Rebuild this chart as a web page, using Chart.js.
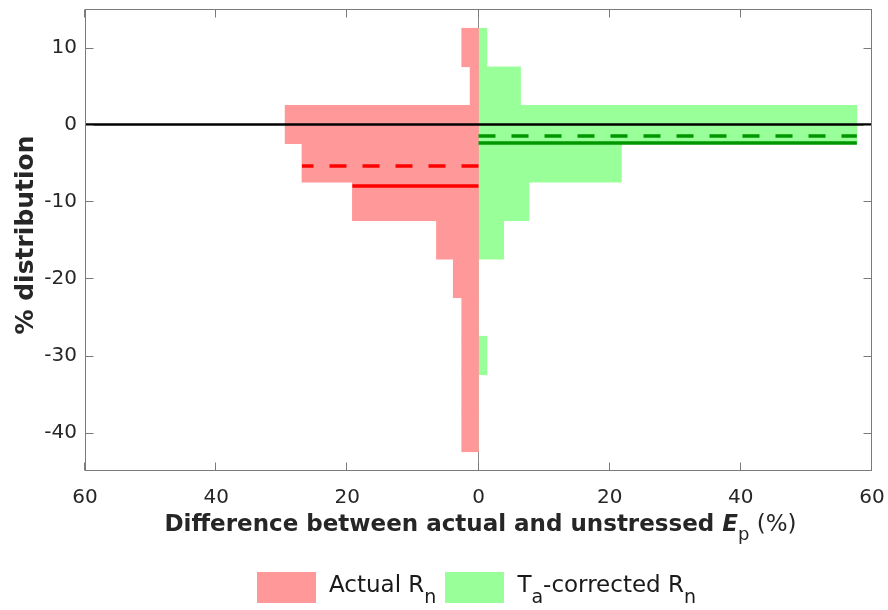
<!DOCTYPE html>
<html>
<head>
<meta charset="utf-8">
<script src="https://cdn.jsdelivr.net/npm/chart.js@4.4.1/dist/chart.umd.min.js"></script>
<style>
  html, body { margin: 0; padding: 0; background: #fff; }
  #wrap { width: 888px; height: 610px; position: relative; }
</style>
</head>
<body>
<div id="wrap"><canvas id="myChart"></canvas></div>
<script>
// ------------------------- data -------------------------
// centre of each 5 % class
const binCentres = [10, 5, 0, -5, -10, -15, -20, -25, -30, -35, -40];
const actualRn = [2.56, 1.28, 29.49, 26.92, 19.23, 6.41, 3.85, 2.56, 2.56, 2.56, 2.56];
const taCorrectedRn = [1.28, 6.41, 57.69, 21.79, 7.69, 3.85, 0, 0, 1.28, 0, 0];

// solid / dashed reference levels of each series
const actualSolid = -8.0;
const actualDashed = -5.4;
const taSolid = -2.4;
const taDashed = -1.5;

const yTicks = [10, 0, -10, -20, -30, -40];
const xTicks = [-60, -40, -20, 0, 20, 40, 60];

const pink = '#ff9999';
const green = '#99ff99';
const axisGrey = '#7a7a7a';
const textCol = '#262626';
const FONT = 'DejaVu Sans';

// length of the bar in the class that holds level y
function barAt(values, y) {
  const i = binCentres.findIndex(c => Math.abs(y - c) <= 2.5);
  return i < 0 ? 0 : values[i];
}

function levelLine(y, values, side, colour, dashed) {
  return {
    type: 'line',
    data: [{x: 0, y: y}, {x: side * barAt(values, y), y: y}],
    borderColor: colour,
    borderWidth: 3.5,
    borderDash: dashed ? [17, 16] : [],
    borderCapStyle: 'butt',
    pointRadius: 0,
    order: 0
  };
}

// draw a row of text pieces with different fonts / offsets
function runs(ctx, parts, x, y, draw) {
  let w = 0;
  parts.forEach(p => {
    ctx.font = p.font;
    if (draw) ctx.fillText(p.t, x + w, y + (p.dy || 0));
    w += ctx.measureText(p.t).width;
  });
  return w;
}

const decor = {
  id: 'decor',
  beforeDatasetsDraw(chart) {
    const {ctx, chartArea: a, scales: {x}} = chart;
    const x0 = Math.round(x.getPixelForValue(0)) - 0.5;
    ctx.save();
    ctx.strokeStyle = '#8c8c8c';
    ctx.lineWidth = 1;
    ctx.beginPath();
    ctx.moveTo(x0, a.top);
    ctx.lineTo(x0, a.bottom);
    ctx.stroke();
    ctx.restore();
  },
  afterDraw(chart) {
    const {ctx, chartArea: a, scales: {x, y}} = chart;
    ctx.save();
    // box and inward ticks
    ctx.strokeStyle = axisGrey;
    ctx.lineWidth = 1;
    const L = Math.round(a.left) + 0.5, R = Math.round(a.right) - 0.5;
    const T = Math.round(a.top) + 0.5, B = Math.round(a.bottom) - 0.5;
    ctx.strokeRect(L, T, R - L, B - T);
    ctx.beginPath();
    const tl = 8;
    yTicks.forEach(v => {
      const py = Math.round(y.getPixelForValue(v)) + 0.5;
      ctx.moveTo(L, py); ctx.lineTo(L + tl, py);
      ctx.moveTo(R, py); ctx.lineTo(R - tl, py);
    });
    xTicks.forEach(v => {
      const px = Math.round(x.getPixelForValue(v)) - 0.5;
      ctx.moveTo(px, B); ctx.lineTo(px, B - tl);
      ctx.moveTo(px, T); ctx.lineTo(px, T + tl);
    });
    ctx.stroke();

    // tick labels
    ctx.fillStyle = textCol;
    ctx.font = '20px ' + FONT;
    ctx.textAlign = 'right';
    ctx.textBaseline = 'middle';
    yTicks.forEach(v => ctx.fillText(String(v), a.left - 8, y.getPixelForValue(v)));
    ctx.textAlign = 'center';
    ctx.textBaseline = 'alphabetic';
    xTicks.forEach(v => ctx.fillText(String(Math.abs(v)), x.getPixelForValue(v), 503));

    // x axis title
    ctx.textAlign = 'left';
    const xt = [
      {t: 'Difference between actual and unstressed ', font: 'bold 23px ' + FONT},
      {t: 'E', font: 'italic bold 23px ' + FONT},
      {t: 'p', font: '18px ' + FONT, dy: 9},
      {t: ' (%)', font: '23px ' + FONT}
    ];
    const cx = (a.left + a.right) / 2;
    const wx = runs(ctx, xt, 0, 0, false);
    runs(ctx, xt, cx + 2 - wx / 2, 531, true);

    // y axis title
    ctx.save();
    ctx.translate(33, 235);
    ctx.rotate(-Math.PI / 2);
    ctx.textAlign = 'center';
    ctx.font = 'bold 25px ' + FONT;
    ctx.fillText('% distribution', 0, 0);
    ctx.restore();

    // legend below the plot
    const lf = '23px ' + FONT, sf = '19px ' + FONT;
    const t1 = [{t: 'Actual R', font: lf}, {t: 'n', font: sf, dy: 11}];
    const t2 = [{t: 'T', font: lf}, {t: 'a', font: sf, dy: 11}, {t: '-corrected R', font: lf}, {t: 'n', font: sf, dy: 11}];
    const bw = 59, bh = 31, gap = 13, mid = 9;
    const w1 = runs(ctx, t1, 0, 0, false), w2 = runs(ctx, t2, 0, 0, false);
    const total = bw + gap + w1 + mid + bw + gap + w2;
    let lx = Math.round(cx - 2 - total / 2);
    const ly = 572;
    ctx.fillStyle = pink;
    ctx.fillRect(lx, ly, bw, bh);
    lx += bw + gap;
    ctx.fillStyle = '#1a1a1a';
    runs(ctx, t1, lx, ly + 20, true);
    lx += w1 + mid;
    ctx.fillStyle = green;
    ctx.fillRect(Math.round(lx), ly, bw, bh);
    lx += bw + gap;
    ctx.fillStyle = '#1a1a1a';
    runs(ctx, t2, lx, ly + 20, true);
    ctx.restore();
  }
};

new Chart('myChart', {
  type: 'bar',
  data: {
    datasets: [
      {
        type: 'line',
        data: [{x: xTicks[0], y: 0}, {x: xTicks[xTicks.length - 1], y: 0}],
        borderColor: '#000',
        borderWidth: 2.5,
        pointRadius: 0,
        order: 0
      },
      levelLine(actualSolid, actualRn, -1, '#ff0000', false),
      levelLine(actualDashed, actualRn, -1, '#ff0000', true),
      levelLine(taSolid, taCorrectedRn, 1, '#009600', false),
      levelLine(taDashed, taCorrectedRn, 1, '#009600', true),
      {
        label: 'Actual Rn',
        data: binCentres.map((c, i) => ({x: -actualRn[i], y: c})),
        backgroundColor: pink,
        order: 1
      },
      {
        label: 'Ta-corrected Rn',
        data: binCentres.map((c, i) => ({x: taCorrectedRn[i], y: c})),
        backgroundColor: green,
        order: 1
      }
    ]
  },
  options: {
    indexAxis: 'y',
    responsive: true,
    maintainAspectRatio: false,
    animation: false,
    grouped: false,
    barPercentage: 1,
    categoryPercentage: 1,
    layout: {padding: {left: 85, right: 16, top: 9, bottom: 139}},
    plugins: {legend: {display: false}, tooltip: {enabled: false}},
    scales: {
      x: {type: 'linear', min: -60, max: 60, offset: false, display: false},
      y: {type: 'linear', min: -45, max: 15, offset: false, display: false}
    }
  },
  plugins: [decor]
});
</script>
</body>
</html>
